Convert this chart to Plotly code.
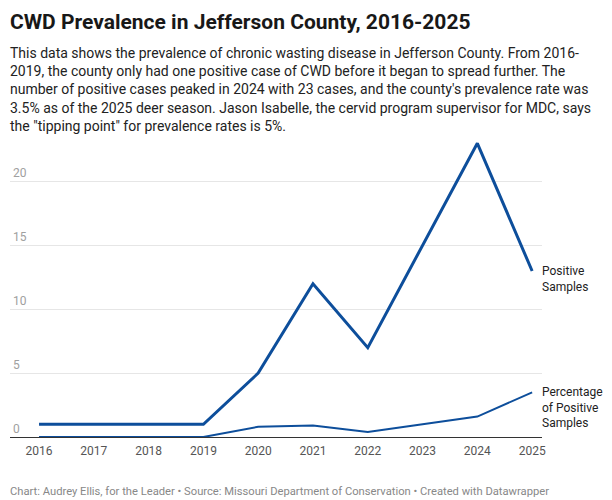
import plotly.graph_objects as go

years = [2016, 2017, 2018, 2019, 2020, 2021, 2022, 2023, 2024, 2025]
positive_samples = [1, 1, 1, 1, 5, 12, 7, 15, 23, 13]
percentage_positive = [0, 0, 0, 0, 0.8, 0.9, 0.4, 1.0, 1.6, 3.5]
y_ticks = [0, 5, 10, 15, 20]
series_labels = ["Positive<br>Samples", "Percentage<br>of Positive<br>Samples"]

title = "CWD Prevalence in Jefferson County, 2016-2025"
description = ("This data shows the prevalence of chronic wasting disease in Jefferson County. From 2016-<br>"
               "2019, the county only had one positive case of CWD before it began to spread further. The<br>"
               "number of positive cases peaked in 2024 with 23 cases, and the county's prevalence rate was<br>"
               "3.5% as of the 2025 deer season. Jason Isabelle, the cervid program supervisor for MDC, says<br>"
               "the \"tipping point\" for prevalence rates is 5%.")
footer = ("Chart: Audrey Ellis, for the Leader \u2022 Source: Missouri Department of Conservation "
          "\u2022 Created with Datawrapper")

W, H = 612, 500
M_L, M_R, M_T, M_B = 10, 70, 135, 63
PLOT_H = H - M_T - M_B


def py(pix):
    return (H - M_B - pix) / PLOT_H


def px(pix):
    return (pix - M_L) / (W - M_L - M_R)


BLUE = "#0d4e9b"
FONT = "Roboto"

fig = go.Figure()
fig.add_trace(go.Scatter(x=years, y=percentage_positive, mode="lines",
                         line=dict(color=BLUE, width=2), hoverinfo="skip",
                         cliponaxis=False))
fig.add_trace(go.Scatter(x=years, y=positive_samples, mode="lines",
                         line=dict(color=BLUE, width=3), hoverinfo="skip",
                         cliponaxis=False))

annotations = [
    dict(text="<b>" + title + "</b>", xref="paper", yref="paper", x=px(8), y=py(22),
         xanchor="left", yanchor="middle", showarrow=False,
         font=dict(family=FONT, size=21, color="#181818")),
    dict(text=description, xref="paper", yref="paper", x=px(8), y=py(43),
         xanchor="left", yanchor="top", showarrow=False, align="left",
         font=dict(family=FONT, size=14, color="#222222")),
    dict(text=footer, xref="paper", yref="paper", x=px(8), y=py(491),
         xanchor="left", yanchor="middle", showarrow=False,
         font=dict(family=FONT, size=11.2, color="#888888")),
]
for label, vals in zip(series_labels, [positive_samples, percentage_positive]):
    annotations.append(dict(text=label, x=1, xref="paper", y=vals[-1], yref="y",
                            xanchor="left", yanchor="top", yshift=9, xshift=-2,
                            showarrow=False, align="left",
                            font=dict(family=FONT, size=12, color="#222222")))

fig.update_layout(
    width=W, height=H,
    margin=dict(l=M_L, r=M_R, t=M_T, b=M_B),
    paper_bgcolor="white", plot_bgcolor="white",
    showlegend=False,
    font=dict(family=FONT),
    annotations=annotations,
    xaxis=dict(range=[2015.47, 2025.18], tickvals=years, ticktext=[str(y) for y in years],
               showgrid=False, zeroline=False, showline=True, linecolor="#333333",
               linewidth=1, ticks="", ticklabelstandoff=3,
               tickfont=dict(family=FONT, size=12, color="#555555"),
               fixedrange=True),
    yaxis=dict(range=[0, PLOT_H / 12.77], tickvals=y_ticks, ticktext=[str(v) for v in y_ticks],
               showgrid=True, gridcolor="#e6e6e6", gridwidth=1, zeroline=False,
               ticklabelposition="inside top", ticks="", showline=False,
               tickfont=dict(family=FONT, size=12, color="#a0a0a0"), fixedrange=True),
)

fig.write_html("out.html")
